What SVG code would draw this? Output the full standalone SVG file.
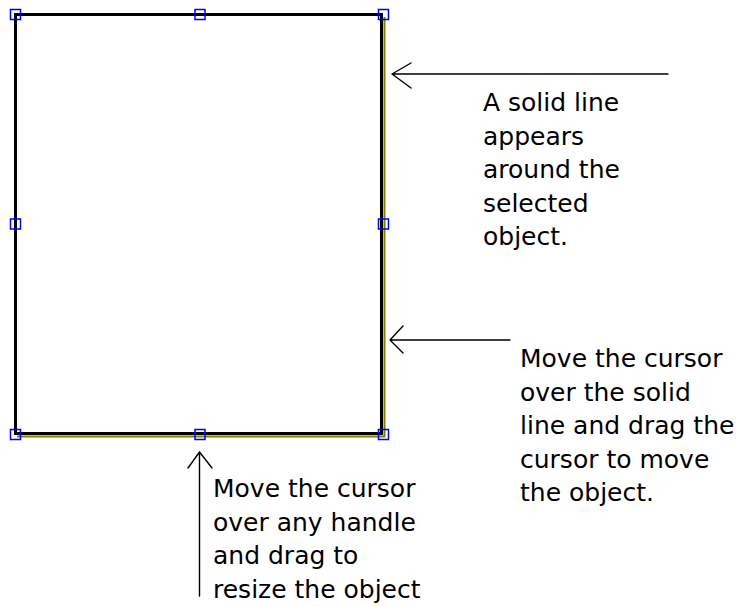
<svg xmlns="http://www.w3.org/2000/svg" width="736" height="606" viewBox="0 0 736 606">
  <style>
    .frame { fill: none; stroke: #000; stroke-width: 3; }
    .shadow { fill: none; stroke: #808000; stroke-width: 2; }
    .handle { fill: none; stroke: #0000ff; stroke-width: 1.5; }
    .conn { fill: none; stroke: #000; stroke-width: 1.4; stroke-linecap: round; stroke-linejoin: round; }
    .note { font-family: "DejaVu Sans", "Liberation Sans", sans-serif; font-size: 25px; fill: #000; }
  </style>

  <!-- selected object with its outline and shadow -->
  <g id="object">
    <polyline class="shadow" points="384.5,17 384.5,436.5 17,436.5"/>
    <rect class="frame" x="15.5" y="14.5" width="366" height="419"/>
  </g>

  <!-- resize handles -->
  <g id="handles">
    <rect class="handle" x="10.5" y="9.5" width="10" height="10"/>
    <rect class="handle" x="195" y="9.5" width="10" height="10"/>
    <rect class="handle" x="378.5" y="9.5" width="10" height="10"/>
    <rect class="handle" x="10.5" y="219" width="10" height="10"/>
    <rect class="handle" x="378.5" y="219" width="10" height="10"/>
    <rect class="handle" x="10.5" y="429.5" width="10" height="10"/>
    <rect class="handle" x="195" y="429.5" width="10" height="10"/>
    <rect class="handle" x="378.5" y="429.5" width="10" height="10"/>
  </g>

  <!-- pointer arrows -->
  <g id="connectors">
    <path class="conn" d="M668,74 H392 M411,63 L392,74 L411,88"/>
    <path class="conn" d="M510,340 H390 M403,326 L390,340 L403,353"/>
    <path class="conn" d="M199.5,596 V452 M188,468 L199.5,452 L212,468"/>
  </g>

  <g id="note-outline">
    <text class="note" x="483" y="111">A solid line</text>
    <text class="note" x="483" y="144.5">appears</text>
    <text class="note" x="483" y="178">around the</text>
    <text class="note" x="483" y="211.5">selected</text>
    <text class="note" x="483" y="245">object.</text>
  </g>

  <g id="note-move">
    <text class="note" x="520" y="367">Move the cursor</text>
    <text class="note" x="520" y="400.5">over the solid</text>
    <text class="note" x="520" y="434">line and drag the</text>
    <text class="note" x="520" y="467.5">cursor to move</text>
    <text class="note" x="520" y="501">the object.</text>
  </g>

  <g id="note-resize">
    <text class="note" x="213" y="497">Move the cursor</text>
    <text class="note" x="213" y="530.5">over any handle</text>
    <text class="note" x="213" y="564">and drag to</text>
    <text class="note" x="213" y="597.5">resize the object</text>
  </g>
</svg>
